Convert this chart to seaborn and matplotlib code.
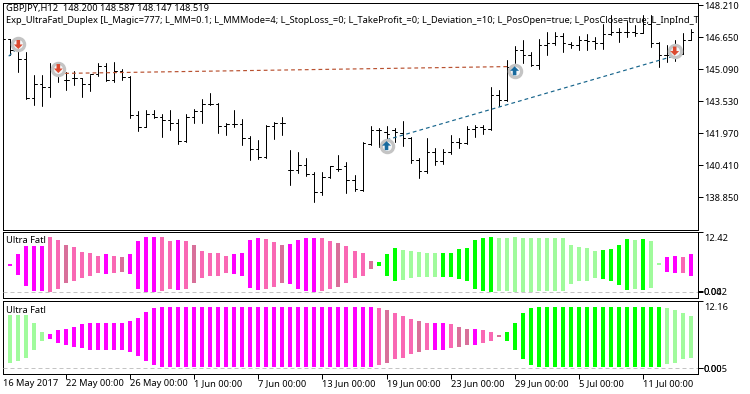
import numpy as np
import pandas as pd
import matplotlib
matplotlib.use("Agg")
import matplotlib.pyplot as plt
from matplotlib.transforms import ScaledTranslation
import seaborn as sns

sns.set_theme(style="white")
plt.rcParams['font.family'] = ['Noto Sans', 'DejaVu Sans']

# --- price bars (GBPJPY H12) -------------------------------------------------
bar_index = list(range(-1, 86))
highs = [146.55,146.55,146.54,145.90,144.80,144.80,145.37,145.37,144.96,144.99,144.68,144.80,145.37,145.37,145.45,145.12,
         144.75,143.06,143.09,143.09,142.93,143.09,142.65,142.90,143.17,143.66,143.95,143.45,142.47,143.09,142.65,
         141.82,141.66,142.36,142.52,142.77,141.14,141.08,140.78,140.07,140.07,140.39,140.90,140.56,139.94,141.56,
         142.31,142.24,142.31,142.24,142.55,141.79,140.78,141.73,141.24,141.20,141.87,141.76,142.33,142.36,142.39,
         144.20,144.07,145.53,146.23,146.50,145.94,146.54,146.88,146.91,146.83,146.42,146.70,146.78,146.67,147.28,
         147.72,147.07,147.45,147.24,147.72,147.72,146.39,146.26,146.50,146.83,147.02]
lows = [146.00,145.77,144.93,143.63,143.34,143.30,143.74,144.47,144.07,144.31,143.74,144.03,144.75,144.50,144.47,144.55,
        142.73,142.08,142.28,142.73,141.79,142.12,141.47,141.55,142.47,142.47,143.34,142.00,141.87,142.28,141.42,
        140.69,140.74,140.78,141.69,141.89,139.45,140.04,139.89,138.62,138.95,139.81,140.13,139.06,139.16,139.16,
        141.39,141.30,141.39,141.55,141.35,140.54,139.79,140.04,140.44,140.49,140.98,141.25,141.47,141.79,141.95,
        142.15,143.29,143.55,145.37,145.37,145.25,145.12,145.77,146.26,145.94,146.10,146.02,146.02,146.05,146.07,
        146.75,146.39,146.63,146.70,146.83,146.18,145.20,145.45,145.50,145.85,146.50]
opens = [146.55,146.55,146.02,145.56,143.69,144.39,144.20,145.12,144.55,144.68,144.64,144.39,144.85,145.24,144.55,145.01,
         144.72,142.85,142.28,142.93,142.77,142.60,142.49,141.60,142.77,143.04,143.38,143.38,142.31,142.44,142.41,
         141.76,141.22,140.82,142.31,142.47,140.17,140.17,140.41,140.00,139.11,139.84,140.25,140.36,139.68,139.22,
         141.47,142.12,142.04,142.15,141.99,141.76,140.65,140.13,141.06,140.62,141.06,141.55,141.50,142.20,142.28,
         142.20,143.82,143.61,145.20,146.02,145.77,145.29,146.26,146.37,146.72,146.31,146.26,146.50,146.47,146.34,
         146.80,146.91,146.91,146.91,146.83,147.28,146.34,145.77,145.77,145.85,146.50]
closes = [146.55,146.02,145.56,143.69,144.39,144.20,145.12,144.85,144.55,144.68,144.39,144.85,145.24,144.55,145.01,144.72,
          142.85,142.28,142.93,142.77,142.60,142.49,141.60,142.77,143.04,143.38,143.38,142.31,142.44,142.41,141.76,
          141.22,140.82,142.31,142.47,142.47,140.17,140.41,140.00,139.11,139.84,140.36,140.25,139.68,139.26,141.50,
          142.12,142.12,141.95,142.04,141.76,140.65,140.13,141.06,140.62,141.06,141.55,141.50,142.20,142.28,142.20,
          143.82,143.58,145.20,146.02,145.77,145.29,146.26,146.37,146.72,146.34,146.26,146.50,146.47,146.34,146.80,
          146.91,146.91,146.91,146.83,147.28,146.34,145.77,145.77,145.85,146.50,146.91]
price_ticks = [148.21, 146.65, 145.09, 143.53, 141.97, 140.41, 138.85]
price_labels = ["148.210", "146.650", "145.090", "143.530", "141.970", "140.410", "138.850"]

# --- trades ------------------------------------------------------------------
sell_idx = [1, 6, 83]
sell_price = [146.29, 145.12, 145.97]
buy_idx = [47, 63]
buy_price = [141.37, 145.01]
trade_red_idx = [6, 63]
trade_red_price = [144.88, 145.22]
trade_blue_idx = [47, 83]
trade_blue_price = [141.65, 145.74]
trade_prev_idx = [-0.2, 1]
trade_prev_price = [145.72, 146.15]

# --- Ultra Fatl panels -------------------------------------------------------
fatl1_hi = [5.69,5.69,7.75,9.40,9.40,9.40,11.25,10.63,9.60,9.19,8.16,7.96,7.34,7.75,7.34,7.13,7.75,10.43,11.25,11.25,11.25,10.43,
            10.63,10.43,9.60,8.37,7.96,7.96,7.34,7.75,7.96,10.63,11.04,10.84,10.22,9.60,9.81,10.63,11.04,11.04,11.04,10.43,
            10.02,9.40,8.37,7.96,6.31,6.11,7.75,8.99,8.58,8.37,8.16,7.96,7.96,7.96,7.96,8.78,8.99,10.63,11.04,11.25,11.04,
            11.04,11.25,11.04,11.04,11.04,11.04,11.04,11.04,9.60,9.19,8.99,8.37,8.58,8.78,9.60,10.84,10.63,10.84,10.43,5.90,
            7.13,7.34,7.13,7.75]
fatl1_lo = [5.49,5.35,3.43,1.17,0.14,0.14,0.00,0.55,1.78,2.20,2.81,3.22,3.84,3.64,3.84,4.05,3.64,0.55,0.00,0.00,0.14,0.55,
            0.34,0.55,1.78,2.81,3.22,3.22,3.84,3.64,3.22,0.69,0.34,0.55,0.96,1.78,1.58,0.55,0.14,0.00,0.14,0.55,
            0.96,1.78,2.81,3.22,4.66,5.28,3.22,2.20,2.40,2.81,3.02,3.02,3.02,3.02,3.02,2.61,2.20,0.55,0.14,0.00,0.14,
            0.14,0.00,0.00,0.00,0.14,0.14,0.14,0.14,1.58,2.20,2.20,2.81,2.61,2.20,1.37,0.34,0.55,0.34,0.75,5.49,
            4.05,3.84,3.84,3.22]
fatl1_state = list("GMMMMMHHPHHHHMHPMMMMHHMHPHHHHMMMMHHPMMMMHHPHHHPLLLGGGGGLLLLLLLGGGGGGGGGGGGGLLLLGLGGMMHM")
fatl1_ticks = [12.42, 0.042, 0.0]
fatl1_labels = ["12.42", "0.042", "0.00"]

fatl2_hi = [9.56,9.56,9.56,9.56,8.11,6.47,6.11,6.84,7.02,7.38,7.93,8.11,8.11,8.11,8.11,8.11,8.47,9.01,10.10,10.83,
            11.01,11.01,11.01,11.01,11.01,11.01,11.01,11.01,11.01,11.01,11.01,11.01,11.01,11.01,11.01,11.01,11.01,11.01,
            11.01,11.01,11.01,11.01,11.01,11.01,11.01,11.01,11.01,
            10.83,10.47,9.92,9.38,8.83,8.47,8.11,8.11,8.11,7.93,7.38,7.02,7.02,6.84,6.47,5.93,6.47,8.11,9.92,10.83,
            11.01,11.01,11.01,11.01,11.01,11.01,11.01,11.01,11.01,11.01,11.01,11.01,11.01,11.01,11.01,11.01,
            10.83,10.47,9.92,9.38]
fatl2_lo = [0.85,0.85,1.21,1.75,3.21,4.84,5.20,4.48,4.11,3.75,3.57,3.21,3.21,3.21,3.21,3.21,2.84,2.12,1.21,0.48,
            0.12,0.12,0.12,0.12,0.12,0.12,0.12,0.12,0.12,0.12,0.12,0.12,0.12,0.12,0.12,0.12,0.12,0.12,
            0.12,0.12,0.12,0.12,0.12,0.12,0.12,0.12,0.12,
            0.48,0.85,1.57,1.75,2.48,2.84,3.21,3.21,3.21,3.57,3.75,4.11,4.11,4.48,4.84,5.57,4.84,3.21,1.57,0.48,
            0.12,0.12,0.12,0.12,0.12,0.12,0.12,0.12,0.12,0.12,0.12,0.12,0.12,0.12,0.12,0.12,
            0.67,0.85,1.57,1.75]
fatl2_state = list("GGGGGG" + "M"*41 + "HPHHHPHMMHPPMHHP" + "L"*20 + "GGGG")
fatl2_ticks = [12.16, 0.005, 0.0]
fatl2_labels = ["12.16", "0.005", "0.00"]

date_idx = [-0.9, 7, 15, 23, 31, 39, 47, 55, 63, 71, 79]
date_labels = ["16 May 2017", "22 May 00:00", "26 May 00:00", "1 Jun 00:00", "7 Jun 00:00", "13 Jun 00:00",
               "19 Jun 00:00", "23 Jun 00:00", "29 Jun 00:00", "5 Jul 00:00", "11 Jul 00:00"]

title_line1 = "GBPJPY,H12  148.200 148.587 148.147 148.519"
title_line2 = ("Exp_UltraFatl_Duplex [L_Magic=777; L_MM=0.1; L_MMMode=4; L_StopLoss_=0; L_TakeProfit_=0; "
               "L_Deviation_=10; L_PosOpen=true; L_PosClose=true; L_InpInd_Timeframe=H12")
panel_name = "Ultra Fatl"

# --- styles ------------------------------------------------------------------
palette = {"M": "#ff00ff", "H": "#f968b4", "P": "#d8709a", "L": "#00ff00", "G": "#a0fb9c"}
W, H = 750, 394
FS = 6.7


def place(px_left, px_top, px_right, px_bottom):
    return [px_left / W, 1 - px_bottom / H, (px_right - px_left) / W, (px_bottom - px_top) / H]


fig = plt.figure(figsize=(W / 100, H / 100), dpi=100, facecolor="white")
ax0 = fig.add_axes(place(2.5, 2.5, 697.5, 229.5))
ax1 = fig.add_axes(place(2.5, 231.5, 697.5, 298))
ax2 = fig.add_axes(place(2.5, 300.5, 697.5, 373.5))

xlim = (-0.975, 85.85)
LW = 0.72


def style_axis(ax):
    ax.set_xlim(*xlim)
    ax.yaxis.tick_right()
    ax.set_xlabel("")
    ax.set_ylabel("")
    for s in ax.spines.values():
        s.set_visible(True)
        s.set_color("black")
        s.set_linewidth(LW)
    ax.tick_params(axis="y", which="major", left=False, right=True, length=3.6, width=LW, color="black",
                   labelsize=FS, pad=1.0, labelcolor="black")
    ax.tick_params(axis="x", which="major", bottom=False, labelbottom=False)
    ax.grid(False)


# price bars
idx = np.array(bar_index, dtype=float)
o, h, l, c = map(np.array, (opens, highs, lows, closes))
wicks = pd.DataFrame({"x": np.r_[idx, idx], "y": np.r_[h, l], "u": np.r_[idx, idx]})
sns.lineplot(data=wicks, x="x", y="y", units="u", estimator=None, sort=False, color="black",
             linewidth=LW, ax=ax0, legend=False)
tick_len = 0.3
left = pd.DataFrame({"x": np.r_[idx - tick_len, idx], "y": np.r_[o, o], "u": np.r_[idx, idx]})
right = pd.DataFrame({"x": np.r_[idx, idx + tick_len], "y": np.r_[c, c], "u": np.r_[idx, idx]})
for frame in (left, right):
    sns.lineplot(data=frame, x="x", y="y", units="u", estimator=None, sort=False, color="black",
                 linewidth=LW, ax=ax0, legend=False)

# trade lines
DASH = (0, (3.2, 2.6))
sns.lineplot(x=trade_red_idx, y=trade_red_price, color="#b8502f", linewidth=0.85, linestyle=DASH, ax=ax0,
             legend=False)
for xs, ys in ((trade_blue_idx, trade_blue_price), (trade_prev_idx, trade_prev_price)):
    sns.lineplot(x=xs, y=ys, color="#17658c", linewidth=0.85, linestyle=DASH, ax=ax0, legend=False)

# trade markers
for xs, ys in ((sell_idx, sell_price), (buy_idx, buy_price)):
    sns.scatterplot(x=xs, y=ys, s=78, facecolor="#f4f6f8", edgecolor="#c4c4c4", linewidth=2.3, ax=ax0,
                    legend=False, zorder=5)
down_arrow = [(-0.4, 1), (0.4, 1), (0.4, 0), (1, 0), (0, -1), (-1, 0), (-0.4, 0)]
up_arrow = [(x, -y) for x, y in down_arrow]
sns.scatterplot(x=sell_idx, y=sell_price, s=42, marker=down_arrow, color="#dc4a30", edgecolor="none", ax=ax0,
                legend=False, zorder=6)
sns.scatterplot(x=buy_idx, y=buy_price, s=42, marker=up_arrow, color="#186a9e", edgecolor="none", ax=ax0,
                legend=False, zorder=6)

ax0.set_ylim(148.454 - 0.01625 * 687, 148.454 - 0.01625 * 7.5)
style_axis(ax0)
ax0.set_yticks(price_ticks)
ax0.set_yticklabels(price_labels)
ax0.text(6 / W, 1 - 9 / H, title_line1, transform=fig.transFigure, fontsize=FS, va="center", ha="left",
         color="black")
t2 = ax0.text(6 / W, 1 - 20.5 / H, title_line2, transform=fig.transFigure, fontsize=FS, va="center", ha="left",
              color="black", clip_on=True)
t2.set_clip_path(ax0.patch)


def fatl(ax, hi, lo, states, ylim, ticks, labels):
    hi, lo = np.array(hi), np.array(lo)
    sns.barplot(x=idx, y=hi - lo, bottom=lo, native_scale=True, width=0.5, errorbar=None, color="#ff00ff",
                saturation=1, linewidth=0, ax=ax)
    for patch, s in zip(ax.patches, states):
        patch.set_facecolor(palette[s])
    ax.axhline(0, color="#c4c4c4", linewidth=LW, linestyle=(0, (4, 3)), zorder=3)
    ax.set_ylim(*ylim)
    style_axis(ax)
    ax.set_yticks(ticks)
    ax.set_yticklabels(labels)
    top_label = ax.get_yticklabels()[0]
    top_label.set_va("top")
    top_label.set_transform(top_label.get_transform() + ScaledTranslation(0, -1.5 / 72, fig.dpi_scale_trans))
    ax.text(3.5 / 695, 0.93, panel_name, transform=ax.transAxes, fontsize=FS, va="top", ha="left", color="black")


fatl(ax1, fatl1_hi, fatl1_lo, fatl1_state, (-1.30, 12.42), fatl1_ticks, fatl1_labels)
fatl(ax2, fatl2_hi, fatl2_lo, fatl2_state, (-0.97, 12.16), fatl2_ticks, fatl2_labels)

ax2.set_xticks(date_idx)
ax2.set_xticklabels(date_labels, ha="left")
ax2.tick_params(axis="x", which="major", bottom=True, labelbottom=True, length=3.6, width=LW, color="black",
                labelsize=FS, pad=0.5, labelcolor="black")
ax2.set_xlim(*xlim)
ax2.xaxis.get_major_ticks()[0].tick1line.set_visible(False)

fig.savefig("out.png", dpi=100)
